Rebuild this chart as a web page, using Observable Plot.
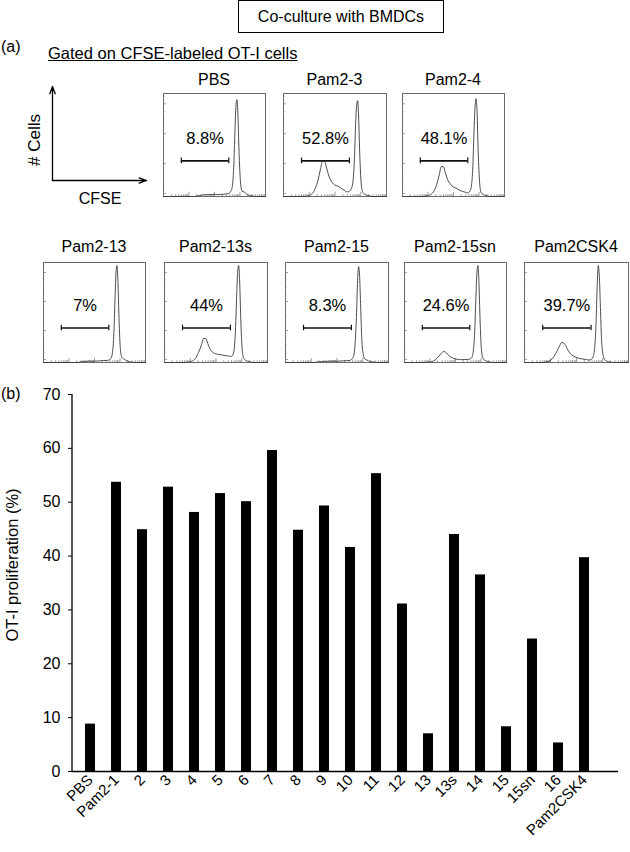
<!DOCTYPE html>
<html>
<head>
<meta charset="utf-8">
<script src="https://cdn.jsdelivr.net/npm/d3@7"></script>
<script src="https://cdn.jsdelivr.net/npm/@observablehq/plot@0.6"></script>
<style>
  body { margin: 0; background: #fff; }
  #fig { position: relative; width: 630px; height: 852px; background: #fff; color: #000;
         font-family: "Liberation Sans", Arial, Helvetica, sans-serif; overflow: hidden; }
  .abs { position: absolute; white-space: nowrap; line-height: 16px; }
</style>
</head>
<body>
<div id="fig">
  <div class="abs" style="left:238px;top:0px;width:206px;height:33px;box-sizing:border-box;border:1.3px solid #000;display:flex;align-items:center;justify-content:center;font-size:16px;">Co-culture with BMDCs</div>
  <div class="abs" style="left:1px;top:38.5px;font-size:16px;">(a)</div>
  <div class="abs" style="left:48px;top:44.5px;font-size:16.5px;text-decoration:underline;">Gated on CFSE-labeled OT-I cells</div>
  <div class="abs" style="left:1px;top:385.5px;font-size:16px;">(b)</div>
  <div class="abs" style="left:12px;top:565px;font-size:16.5px;transform:translate(-50%,-50%) rotate(-90deg);">OT-I proliferation (%)</div>
  <div class="abs" style="left:35px;top:140px;font-size:17px;transform:translate(-50%,-50%) rotate(-90deg);"># Cells</div>
  <div class="abs" style="left:60px;top:190.5px;width:80px;text-align:center;font-size:16px;">CFSE</div>
</div>
<script>
// ---------------- data ----------------
const categories = ["PBS","Pam2-1","2","3","4","5","6","7","8","9","10","11","12","13","13s","14","15","15sn","16","Pam2CSK4"];
const proliferation = [8.8,53.7,44.9,52.8,48.1,51.6,50.1,59.6,44.8,49.3,41.6,55.3,31.1,7.0,44.0,36.5,8.3,24.6,5.3,39.7];
const yTicks = [0,10,20,30,40,50,60,70];

const panelNames = ["PBS","Pam2-3","Pam2-4","Pam2-13","Pam2-13s","Pam2-15","Pam2-15sn","Pam2CSK4"];
const panelPercents = ["8.8%","52.8%","48.1%","7%","44%","8.3%","24.6%","39.7%"];

// CFSE channel (0-100, 4 log decades) sample positions
const cfseX = [0,4,8,12,16,20,24,27,30,33,36,38,40,42,44,47,50,53,56,59,62,64,66,67.5,69,70,71,72,73,74,75.5,77,79,82,86,90,95,100];

// relative cell counts (fraction of panel height)
const countsPBS      = [0,0,0,0,0,0,0,0,0,0.005,0.01,0.015,0.018,0.015,0.02,0.018,0.022,0.018,0.02,0.022,0.025,0.03,0.05,0.1,0.32,0.62,0.88,0.94,0.78,0.45,0.14,0.05,0.045,0.02,0.008,0,0,0];
const countsPam2_3   = [0,0,0,0,0,0,0.005,0.02,0.06,0.14,0.27,0.35,0.34,0.27,0.2,0.14,0.11,0.1,0.08,0.06,0.045,0.05,0.08,0.15,0.4,0.7,0.88,0.93,0.75,0.42,0.12,0.04,0.02,0.01,0,0,0,0];
const countsPam2_4   = [0,0,0,0,0,0,0.005,0.015,0.04,0.1,0.21,0.29,0.29,0.23,0.17,0.12,0.09,0.08,0.06,0.05,0.04,0.035,0.05,0.1,0.3,0.6,0.85,0.95,0.85,0.5,0.15,0.04,0.02,0.01,0,0,0,0];
const countsPam2_13  = [0,0,0,0,0,0,0,0,0,0,0.005,0.01,0.012,0.01,0.015,0.012,0.015,0.015,0.018,0.02,0.02,0.025,0.04,0.09,0.3,0.6,0.88,0.97,0.8,0.45,0.12,0.05,0.035,0.015,0.005,0,0,0];
const countsPam2_13s = [0,0,0,0,0,0,0.005,0.015,0.04,0.1,0.18,0.24,0.24,0.19,0.14,0.1,0.085,0.08,0.075,0.07,0.065,0.06,0.07,0.12,0.35,0.65,0.9,0.97,0.8,0.45,0.12,0.04,0.02,0.01,0,0,0,0];
const countsPam2_15  = [0,0,0,0,0,0,0,0,0.004,0.008,0.01,0.012,0.01,0.014,0.012,0.015,0.012,0.015,0.016,0.018,0.02,0.03,0.06,0.18,0.5,0.82,0.96,0.85,0.55,0.25,0.08,0.035,0.025,0.01,0.004,0,0,0];
const countsPam2_15sn= [0,0,0,0,0,0,0.003,0.01,0.025,0.055,0.09,0.11,0.105,0.085,0.065,0.045,0.035,0.03,0.028,0.03,0.03,0.035,0.05,0.12,0.35,0.65,0.9,0.97,0.8,0.45,0.12,0.04,0.02,0.01,0,0,0,0];
const countsPam2CSK4 = [0,0,0,0,0,0.005,0.015,0.04,0.09,0.15,0.2,0.195,0.16,0.12,0.09,0.065,0.05,0.04,0.035,0.03,0.025,0.03,0.06,0.15,0.45,0.8,0.97,0.85,0.55,0.25,0.08,0.03,0.015,0.005,0,0,0,0];
const panelCounts = [countsPBS,countsPam2_3,countsPam2_4,countsPam2_13,countsPam2_13s,countsPam2_15,countsPam2_15sn,countsPam2CSK4];

// gate (CFSE range counted as divided cells)
const gateRange = [17.5, 64];

// ---------------- layout ----------------
const FONT = '"Liberation Sans", Arial, Helvetica, sans-serif';
const fig = document.getElementById("fig");
function place(node, left, top) {
  const d = document.createElement("div");
  d.style.position = "absolute"; d.style.left = left + "px"; d.style.top = top + "px";
  d.appendChild(node); fig.appendChild(d); return d;
}
// panel boxes: [left, top, width, height]
const panelBoxes = [
  [163, 93, 102, 103], [283, 93, 103, 103], [402, 93, 102, 103],
  [43, 262, 102, 100], [164, 262, 103, 100], [285, 262, 103, 100], [404, 262, 102, 100], [524, 262, 104, 100]
];

// log-decade tick positions on CFSE axis (decoration)
const bottomTicks = [];
for (let d = 0; d < 4; d++) for (let m = 1; m < 10; m++) bottomTicks.push({x: (d + Math.log10(m)) * 25, len: m === 1 ? 0.04 : 0.018});
bottomTicks.push({x: 100, len: 0.04});
const leftTicks = [];
for (let k = 0; k <= 13; k++) { const yv = 0.03 + k * 0.0725; if (yv < 1) leftTicks.push({y: yv, len: (k % 4 === 0) ? 3 : 1.5}); }

panelNames.forEach((name, i) => {
  const [L, T, W, H] = panelBoxes[i];
  const curve = cfseX.map((x, j) => ({x, y: panelCounts[i][j]}));
  const gy = 0.345;
  const svg = Plot.plot({
    width: W + 2, height: H + 2, margin: 1,
    x: {domain: [0, 100], axis: null},
    y: {domain: [0, 1], axis: null},
    style: {fontFamily: FONT, color: "#000", background: "transparent", overflow: "visible"},
    marks: [
      Plot.frame({stroke: "#6a6a6a", strokeWidth: 1}),
      Plot.ruleX(bottomTicks, {x: "x", y1: 0, y2: "len", stroke: "#777", strokeWidth: 0.7}),
      Plot.ruleY(leftTicks, {y: "y", x1: 0, x2: "len", stroke: "#777", strokeWidth: 0.7}),
      Plot.line(curve, {x: "x", y: "y", curve: "monotone-x", stroke: "#3a3a3a", strokeWidth: 0.9}),
      Plot.ruleY([gy], {x1: gateRange[0], x2: gateRange[1], stroke: "#111", strokeWidth: 1.7}),
      Plot.ruleX(gateRange, {x: d => d, y1: gy - 0.028, y2: gy + 0.028, stroke: "#111", strokeWidth: 1.2}),
      Plot.text([panelPercents[i]], {x: (gateRange[0] + gateRange[1]) / 2, y: 0.565, text: d => d, fontSize: 16.5, fill: "#000"})
    ]
  });
  place(svg, L - 1, T - 1);
  const t = document.createElement("div");
  t.textContent = name;
  t.style.cssText = `position:absolute;left:${L}px;top:${(T < 200 ? 85 : 252) - 13.5}px;width:${W}px;text-align:center;font-size:16px;line-height:16px;white-space:nowrap;`;
  fig.appendChild(t);
});

// axis schematic (# Cells vs CFSE)
const schematic = Plot.plot({
  width: 110, height: 110, margin: 0,
  x: {type: "identity", axis: null}, y: {type: "identity", axis: null},
  style: {background: "transparent", overflow: "visible"},
  marks: [
    Plot.arrow([{x1: 12, y1: 100, x2: 12, y2: 6}, {x1: 12, y1: 100, x2: 106, y2: 100}],
      {x1: "x1", y1: "y1", x2: "x2", y2: "y2", stroke: "#000", strokeWidth: 1.3, headLength: 9, headAngle: 40})
  ]
});
place(schematic, 40, 80);

// ---------------- bar chart (b) ----------------
const barData = categories.map((c, i) => ({cat: c, val: proliferation[i]}));
const leftLine = (index, scales, values, dims) =>
  d3.create("svg:line").attr("x1", dims.marginLeft).attr("x2", dims.marginLeft)
    .attr("y1", scales.y(70)).attr("y2", scales.y(0)).attr("stroke", "#000").attr("stroke-width", 1.3).node();
const bars = Plot.plot({
  width: 630, height: 472,
  marginTop: 14, marginBottom: 81, marginLeft: 72, marginRight: 12,
  x: {domain: categories, paddingInner: 0.6, paddingOuter: 0.485, align: 0.31},
  y: {domain: [0, 70]},
  style: {fontFamily: FONT, fontSize: "16px", color: "#000", background: "transparent", overflow: "visible"},
  marks: [
    Plot.barY(barData, {x: "cat", y: "val", fill: "#000"}),
    Plot.ruleY([0], {stroke: "#000", strokeWidth: 1.3}),
    leftLine,
    Plot.axisY({ticks: yTicks, tickSize: 4, tickPadding: 8, fontSize: 16, label: null, tickFormat: d => d}),
    Plot.axisX({tickRotate: -45, tickSize: 0, tickPadding: 6, fontSize: 15, label: null})
  ]
});
place(bars, 0, 380);
</script>
</body>
</html>
